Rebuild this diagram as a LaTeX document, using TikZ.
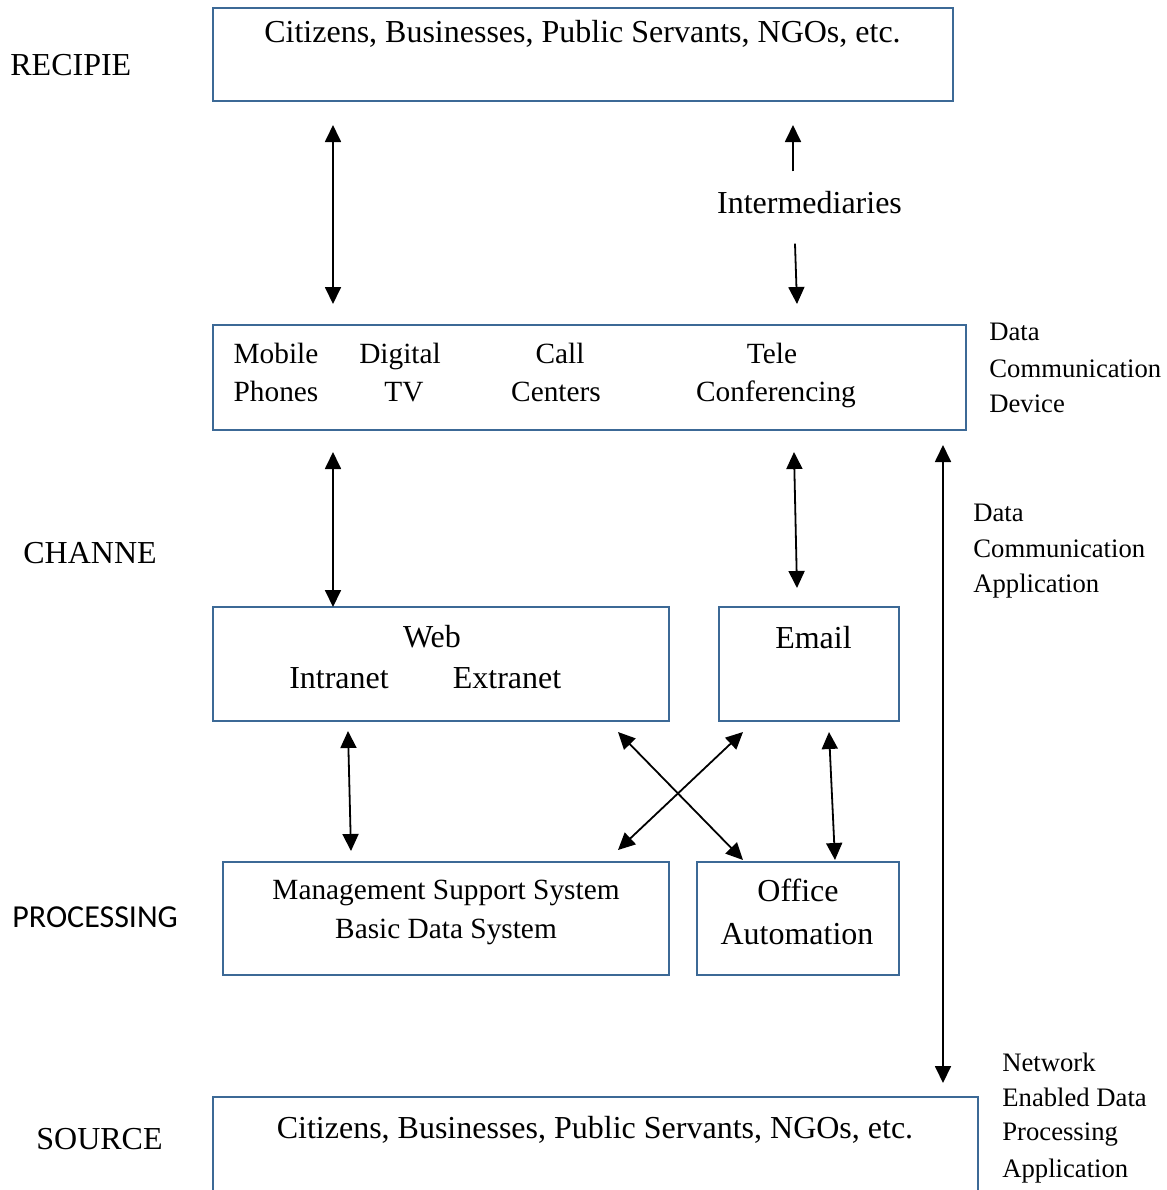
\documentclass[tikz,border=0pt]{standalone}
\usepackage{fontspec}
\setmainfont{Liberation Serif}
\newfontfamily\calfont{Carlito}
\usetikzlibrary{arrows.meta,fit}
\definecolor{boxblue}{RGB}{60,105,150}
\tikzset{
  box/.style={draw=boxblue, line width=1pt, inner sep=0pt, outer sep=0pt, fill=none},
  big/.style={inner sep=0pt, anchor=base, font=\fontsize{16}{19}\selectfont},
  mid/.style={inner sep=0pt, anchor=base, font=\fontsize{14.67}{18}\selectfont},
  small/.style={inner sep=0pt, anchor=base west, font=\fontsize{13.33}{16}\selectfont},
  side/.style={inner sep=0pt, anchor=base west, font=\fontsize{16}{19}\selectfont},
  dbl/.style={line width=0.9pt, {Triangle[length=8.5pt,width=8pt]}-{Triangle[length=8.5pt,width=8pt]}},
  sgl/.style={line width=0.9pt, -{Triangle[length=8.5pt,width=8pt]}}
}
\begin{document}
\begin{tikzpicture}[x=0.5pt,y=-0.5pt]
\useasboundingbox (0,0) rectangle (1167,1190);
\clip (0,0) rectangle (1167,1190);

% boxes
\node[box, fit={(213,8) (953,101)}] (b1) {};
\node[box, fit={(213,325) (966,430)}] (b2) {};
\node[box, fit={(213,607) (669,721)}] (b3) {};
\node[box, fit={(719,607) (899,721)}] (b4) {};
\node[box, fit={(223,862) (669,975)}] (b5) {};
\node[box, fit={(697,862) (899,975)}] (b6) {};
\node[box, fit={(213,1097) (978,1210)}] (b7) {};

% texts in boxes
\node[big] (ttop) at (582.5,42) {Citizens, Businesses, Public Servants, NGOs, etc.};
\node[mid] (mob1) at (276,363) {Mobile};
\node[mid] (mob2) at (276,401) {Phones};
\node[mid] (dig1) at (400,363) {Digital};
\node[mid] (dig2) at (404,401) {TV};
\node[mid] (cal1) at (560,363) {Call};
\node[mid] (cal2) at (556,401) {Centers};
\node[mid] (tel1) at (772,363) {Tele};
\node[mid] (tel2) at (776,401) {Conferencing};
\node[big] (web1) at (432,647) {Web};
\node[big] (web2) at (339,688) {Intranet};
\node[big] (web3) at (507,688) {Extranet};
\node[big] (eml) at (813.5,648) {Email};
\node[mid] (mss1) at (446,899) {Management Support System};
\node[mid] (mss2) at (446,938) {Basic Data System};
\node[big] (off1) at (798,901) {Office};
\node[big] (off2) at (797,944) {Automation};
\node[big] (tsrc) at (595,1138) {Citizens, Businesses, Public Servants, NGOs, etc.};

% intermediaries
\node[big] (inter) at (809.5,213) {Intermediaries};

% left labels
\node[side] (lrec) at (10,75) {RECIPIE};
\node[side] (lchan) at (23,563) {CHANNE};
\node[side, font=\calfont\fontsize{16}{19}\selectfont] (lproc) at (12,927) {PROCESSING};
\node[side] (lsrc) at (36,1149) {SOURCE};

% right labels
\node[small] (dcd1) at (989,340) {Data};
\node[small] (dcd2) at (989,377) {Communication};
\node[small] (dcd3) at (989,412) {Device};
\node[small] (dca1) at (973,521) {Data};
\node[small] (dca2) at (973,557) {Communication};
\node[small] (dca3) at (973,592) {Application};
\node[small] (net1) at (1002,1071) {Network};
\node[small] (net2) at (1002,1106) {Enabled Data};
\node[small] (net3) at (1002,1140) {Processing};
\node[small] (net4) at (1002,1177) {Application};

% connectors
\draw[dbl] ([shift={(120,24)}]b1.south west) -- ([shift={(120,-21)}]b2.north west);
\draw[sgl] ([shift={(-16.5,-19)}]inter.north) -- ([shift={(580,24)}]b1.south west);
\draw[sgl] ([shift={(-14.5,30)}]inter.south) -- ([shift={(584,-21)}]b2.north west);
\draw[dbl] ([shift={(581,22)}]b2.south west) -- ([shift={(78,-19)}]b4.north west);
\draw[dbl] ([shift={(-23,15)}]b2.south east) -- ([shift={(-35,-14)}]b7.north east);
\draw[dbl] ([shift={(120,22)}]b2.south west) -- ([shift={(120,0)}]b3.north west);
\draw[dbl] ([shift={(135,10)}]b3.south west) -- ([shift={(128,-11)}]b5.north west);
\draw[dbl] ([shift={(110,11)}]b4.south west) -- ([shift={(138,-2)}]b6.north west);
\draw[dbl] ([shift={(-51,11)}]b3.south east) -- ([shift={(46,-2)}]b6.north west);
\draw[dbl] ([shift={(24,11)}]b4.south west) -- ([shift={(-51,-12)}]b5.north east);
\end{tikzpicture}
\end{document}
